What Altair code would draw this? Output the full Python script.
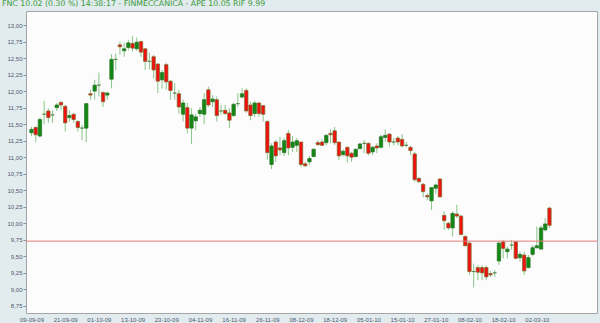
import altair as alt
import pandas as pd

# ---- data ----
opens = [11.37, 11.45, 11.32, 11.65, 11.70, 11.64, 11.75, 11.83, 11.77, 11.60,
         11.65, 11.54, 11.44, 11.44, 11.96, 12.00, 12.09, 11.98, 11.94, 12.18,
         12.48, 12.70, 12.61, 12.66, 12.72, 12.64, 12.75, 12.64, 12.45, 12.52,
         12.41, 12.17, 12.40, 12.15, 11.97, 11.96, 11.65, 11.75, 11.44, 11.55,
         11.66, 11.65, 12.02, 11.84, 11.87, 11.70, 11.71, 11.67, 11.63, 11.81,
         11.91, 12.01, 11.79, 11.66, 11.82, 11.78, 11.54, 10.89, 11.23, 11.14,
         11.07, 11.36, 11.15, 11.18, 11.23, 10.90, 10.93, 11.01, 11.22, 11.23,
         11.22, 11.36, 11.40, 11.23, 11.04, 11.15, 11.06, 11.01, 11.13, 11.21,
         11.21, 11.08, 11.17, 11.15, 11.30, 11.35, 11.23, 11.29, 11.27, 11.18,
         11.15, 11.05, 10.68, 10.59, 10.42, 10.34, 10.53, 10.67, 10.12, 10.00,
         9.93, 10.14, 10.11, 9.80, 9.70, 9.27, 9.33, 9.33, 9.33, 9.24,
         9.25, 9.43, 9.72, 9.57, 9.67, 9.72, 9.48, 9.52, 9.33, 9.53,
         9.63, 9.61, 9.90, 10.23]
highs = [11.46, 11.47, 11.60, 11.85, 11.74, 11.71, 11.82, 11.84, 11.79, 11.71,
         11.66, 11.56, 11.49, 11.82, 12.02, 12.17, 12.28, 11.99, 11.99, 12.56,
         12.57, 12.75, 12.73, 12.77, 12.83, 12.81, 12.76, 12.65, 12.58, 12.55,
         12.42, 12.32, 12.43, 12.17, 12.12, 12.02, 11.87, 11.82, 11.74, 11.66,
         11.76, 11.97, 12.07, 11.94, 11.92, 11.79, 11.79, 11.74, 11.82, 11.97,
         12.04, 12.04, 11.84, 11.85, 11.84, 11.79, 11.56, 11.21, 11.26, 11.31,
         11.29, 11.41, 11.32, 11.29, 11.23, 10.93, 11.02, 11.13, 11.26, 11.27,
         11.35, 11.42, 11.46, 11.23, 11.12, 11.16, 11.08, 11.13, 11.22, 11.26,
         11.22, 11.17, 11.21, 11.34, 11.42, 11.36, 11.29, 11.32, 11.35, 11.23,
         11.17, 11.08, 10.70, 10.61, 10.45, 10.55, 10.60, 10.68, 10.18, 10.02,
         10.18, 10.28, 10.13, 9.82, 9.72, 9.39, 9.37, 9.37, 9.36, 9.28,
         9.29, 9.72, 9.75, 9.65, 9.75, 9.73, 9.57, 9.57, 9.52, 9.67,
         9.95, 9.97, 10.08, 10.25]
lows = [11.32, 11.23, 11.30, 11.50, 11.52, 11.52, 11.70, 11.71, 11.39, 11.54,
        11.52, 11.39, 11.26, 11.23, 11.87, 11.87, 11.92, 11.76, 11.87, 12.04,
        12.32, 12.55, 12.52, 12.62, 12.60, 12.61, 12.52, 12.32, 12.33, 12.19,
        11.97, 12.04, 12.02, 11.87, 11.87, 11.66, 11.54, 11.36, 11.20, 11.41,
        11.61, 11.50, 11.76, 11.76, 11.54, 11.64, 11.64, 11.44, 11.61, 11.76,
        11.89, 11.67, 11.56, 11.61, 11.61, 11.54, 10.96, 10.82, 10.93, 11.03,
        11.02, 11.03, 11.08, 11.08, 10.85, 10.85, 10.88, 11.00, 11.17, 11.17,
        11.18, 11.21, 11.18, 10.96, 11.01, 10.92, 10.93, 11.00, 11.12, 11.06,
        11.03, 11.03, 11.06, 11.13, 11.23, 11.16, 11.18, 11.18, 11.15, 11.15,
        11.03, 10.63, 10.61, 10.39, 10.35, 10.20, 10.45, 10.39, 9.90, 9.90,
        9.80, 10.08, 9.82, 9.65, 9.22, 9.03, 9.14, 9.14, 9.14, 9.19,
        9.19, 9.37, 9.47, 9.47, 9.60, 9.46, 9.42, 9.22, 9.32, 9.50,
        9.62, 9.60, 9.88, 9.93]
closes = [11.42, 11.34, 11.57, 11.65, 11.60, 11.64, 11.79, 11.79, 11.52, 11.63,
          11.57, 11.45, 11.44, 11.81, 11.94, 12.09, 12.09, 11.84, 11.97, 12.48,
          12.48, 12.67, 12.64, 12.73, 12.65, 12.74, 12.59, 12.45, 12.45, 12.32,
          12.15, 12.28, 12.14, 12.01, 11.97, 11.76, 11.82, 11.44, 11.64, 11.61,
          11.71, 11.87, 11.79, 11.88, 11.63, 11.70, 11.66, 11.56, 11.80, 11.81,
          11.96, 11.70, 11.63, 11.82, 11.66, 11.65, 11.07, 11.17, 11.02, 11.11,
          11.25, 11.14, 11.23, 11.25, 10.89, 10.87, 10.98, 11.12, 11.19, 11.18,
          11.33, 11.34, 11.22, 11.02, 11.09, 11.02, 11.00, 11.12, 11.20, 11.21,
          11.06, 11.15, 11.14, 11.31, 11.33, 11.23, 11.23, 11.23, 11.17, 11.18,
          11.10, 10.66, 10.63, 10.48, 10.40, 10.54, 10.58, 10.40, 10.04, 9.93,
          10.15, 10.11, 9.83, 9.66, 9.27, 9.27, 9.26, 9.25, 9.19, 9.22,
          9.25, 9.70, 9.62, 9.61, 9.67, 9.47, 9.53, 9.28, 9.48, 9.63,
          9.66, 9.93, 9.99, 9.97]

date_labels = ["09-09-09", "21-09-09", "01-10-09", "13-10-09", "23-10-09",
               "04-11-09", "16-11-09", "26-11-09", "08-12-09", "18-12-09",
               "05-01-10", "15-01-10", "27-01-10", "08-02-10", "18-02-10",
               "02-03-10"]
label_step = 8  # trading days between date labels
y_ticks = [8.75, 9.00, 9.25, 9.50, 9.75, 10.00, 10.25, 10.50, 10.75, 11.00,
           11.25, 11.50, 11.75, 12.00, 12.25, 12.50, 12.75, 13.00]
ref_level = [9.73]
header = "FNC 10.02 (0.30 %) 14:38:17 - FINMECCANICA - APE 10.05  RIF 9.99"

# ---- table ----
df = pd.DataFrame({"o": opens, "h": highs, "l": lows, "c": closes})
df["idx"] = range(len(df))
df["dir"] = ["up" if c > o else ("down" if c < o else "flat")
             for o, c in zip(df["o"], df["c"])]

x_vals = [label_step * k for k in range(len(date_labels))]
label_arr = "[" + ",".join("'%s'" % s for s in date_labels) + "]"

xscale = alt.Scale(domain=[-0.12, 133.1], nice=False, zero=False)
yscale = alt.Scale(domain=[8.643, 13.212], nice=False, zero=False)

xaxis = alt.Axis(values=x_vals, labelExpr=label_arr + "[round(datum.value/8)]",
                 ticks=False, domain=False, grid=False, title=None,
                 labelFontSize=6, labelFont="Liberation Sans",
                 labelColor="#4a5a70", labelPadding=3,
                 labelFlush=False, labelOverlap=False, labelBound=False)
yaxis = alt.Axis(values=y_ticks,
                 labelExpr="replace(format(datum.value, '.2f'), '.', ',')",
                 ticks=True, tickSize=3, tickColor="#8a96a0", domain=False,
                 grid=False, title=None, labelFontSize=6,
                 labelFont="Liberation Sans", labelColor="#4a5a70",
                 labelPadding=1, labelFlush=False, labelOverlap=False,
                 labelBound=False)

base = alt.Chart(df)

wicks = base.mark_rule(color="#6fb86f", strokeWidth=1, opacity=0.8).encode(
    x=alt.X("idx:Q", scale=xscale, axis=xaxis),
    y=alt.Y("l:Q", scale=yscale, axis=yaxis),
    y2="h:Q",
)

bodies = base.mark_bar(size=3.4, strokeWidth=0.7).encode(
    x=alt.X("idx:Q", scale=xscale, axis=xaxis),
    y=alt.Y("o:Q", scale=yscale, axis=yaxis),
    y2="c:Q",
    fill=alt.Fill("dir:N", legend=None,
                  scale=alt.Scale(domain=["up", "down", "flat"],
                                  range=["#128a12", "#f21010", "#3a7a3a"])),
    stroke=alt.Stroke("dir:N", legend=None,
                      scale=alt.Scale(domain=["up", "down", "flat"],
                                      range=["#2a6e2a", "#7a6a2a", "#4a7a3a"])),
)

ref = alt.Chart(pd.DataFrame({"v": ref_level})).mark_rule(
    color="#e57a7a", strokeWidth=1).encode(
    y=alt.Y("v:Q", scale=yscale, axis=yaxis))

chart = alt.layer(wicks, bodies, ref).properties(
    width=571, height=302,
    autosize=alt.AutoSizeParams(type="none"),
    padding={"left": 26, "right": 3, "top": 11, "bottom": 10},
    background="#e2ebee",
    title=alt.TitleParams(text=header, anchor="start", frame="group",
                          fontSize=7.8, font="DejaVu Sans",
                          fontWeight="normal", color="#3a9a3a",
                          offset=3, dx=-24),
).configure_view(stroke="#a6a6a6", strokeWidth=1, fill="#fbfcfb"
).configure_axis(labelOverlap=False)

chart.save("out.html", embed_options={"renderer": "svg", "actions": False})
